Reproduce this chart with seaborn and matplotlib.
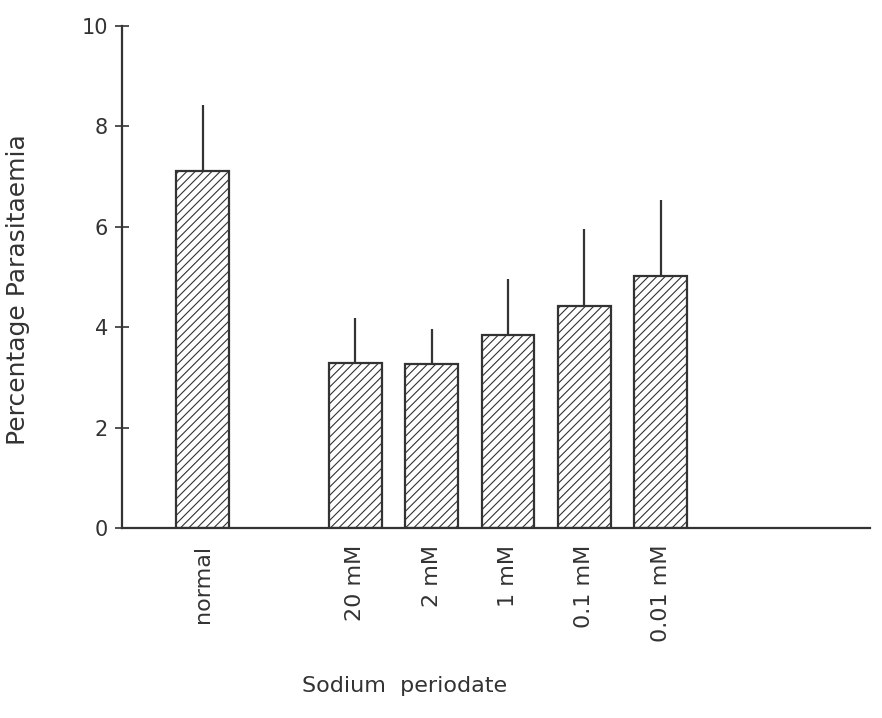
import matplotlib
matplotlib.use("Agg")
import matplotlib.pyplot as plt
import seaborn as sns
import pandas as pd
import numpy as np

# Treatment groups, bar positions (a blank slot separates the control)
groups = ["normal", "20 mM", "2 mM", "1 mM", "0.1 mM", "0.01 mM"]
positions = [0, 2, 3, 4, 5, 6]
mean_pct = [7.1, 3.28, 3.26, 3.84, 4.42, 5.02]
upper_pct = [8.42, 4.18, 3.96, 4.96, 5.96, 6.54]
y_ticks = [0, 2, 4, 6, 8, 10]

df = pd.DataFrame({"pos": positions, "pct": mean_pct, "group": groups})

sns.set_theme(style="white")
plt.rcParams["font.family"] = ["DejaVu Sans"]
plt.rcParams["hatch.linewidth"] = 0.8
plt.rcParams["hatch.color"] = "#4a4a4a"

ink = "#333333"
fig = plt.figure(figsize=(8.82, 7.18), dpi=100)
ax = fig.add_axes([0.138, 0.2646, 0.848, 0.6995])

sns.barplot(data=df, x="pos", y="pct", native_scale=True, width=0.69,
            color="white", edgecolor=ink, linewidth=1.6, errorbar=None,
            ax=ax)
for patch in ax.patches:
    patch.set_hatch("////")
    patch.set_facecolor("white")
    patch.set_edgecolor(ink)

# upper-only error bars
err_up = np.array(upper_pct) - np.array(mean_pct)
ax.errorbar(positions, mean_pct, yerr=[np.zeros_like(err_up), err_up],
            fmt="none", ecolor=ink, elinewidth=1.6, capsize=0, zorder=3)

ax.set_xlim(-1.06, 8.74)
ax.set_ylim(0, 10)
ax.set_yticks(y_ticks)
ax.set_yticklabels([str(t) for t in y_ticks], fontsize=15, color=ink)
ax.set_xticks(positions)
ax.set_xticklabels(groups, rotation=90, fontsize=16, color=ink)
ax.tick_params(axis="y", direction="inout", length=10, width=1.2,
               color=ink, left=True, pad=5)
ax.tick_params(axis="x", length=0, pad=12)

for side in ["top", "right"]:
    ax.spines[side].set_visible(False)
for side in ["left", "bottom"]:
    ax.spines[side].set_color(ink)
    ax.spines[side].set_linewidth(1.6)

ax.set_xlabel("Sodium  periodate", fontsize=16, color=ink)
ax.xaxis.set_label_coords(0.378, -0.295)
ax.set_ylabel("Percentage Parasitaemia", fontsize=18, color=ink)
ax.yaxis.set_label_coords(-0.122, 0.474)

fig.savefig("out.png", dpi=100, facecolor="white")
